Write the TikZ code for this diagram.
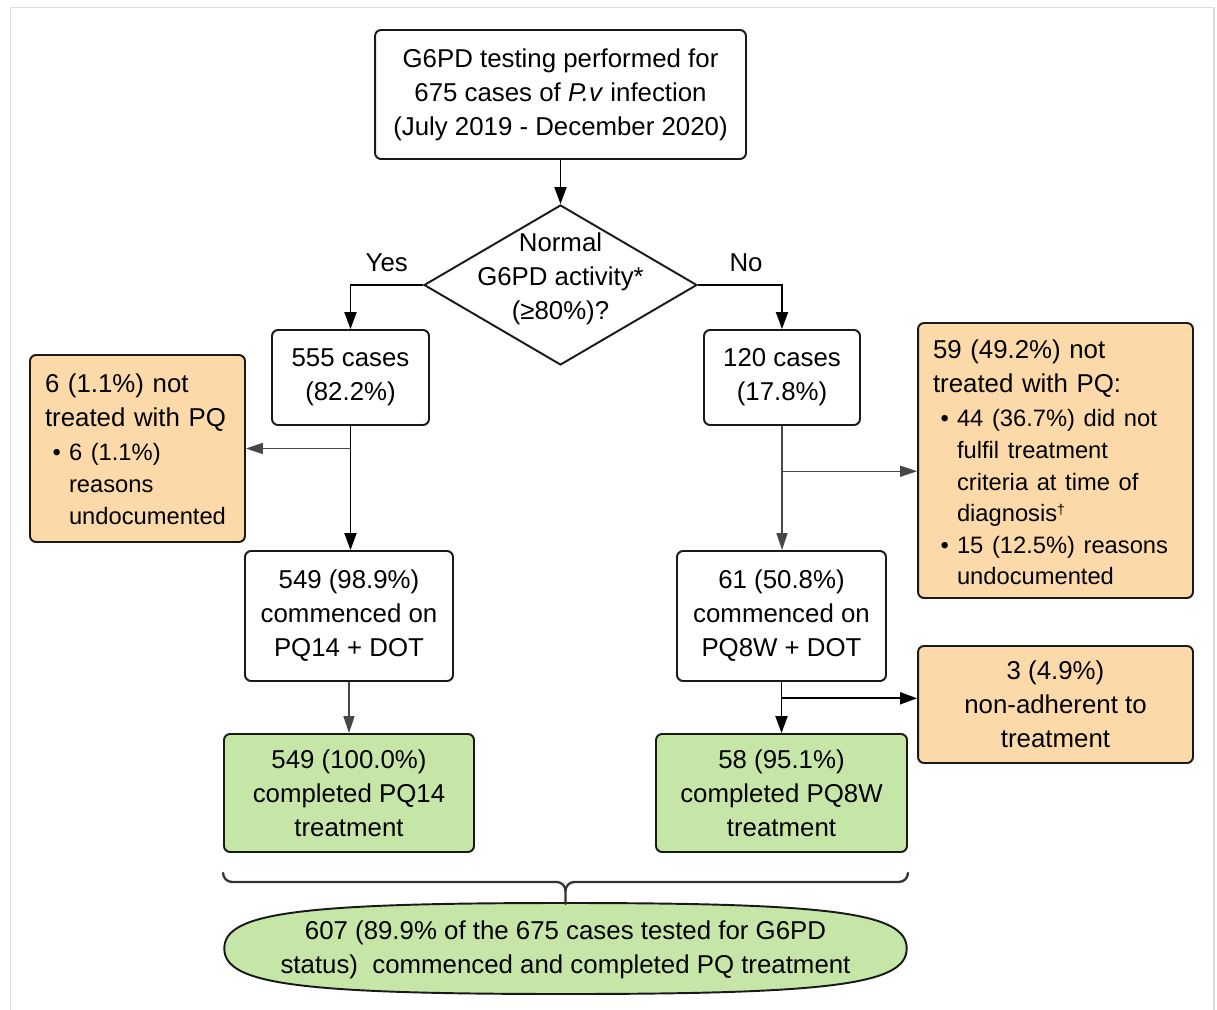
\documentclass[tikz,border=0pt]{standalone}
\usepackage{fontspec}
\setmainfont{Liberation Sans}
\usetikzlibrary{shapes.geometric,arrows.meta,calc}
\definecolor{peach}{RGB}{252,217,168}
\definecolor{leaf}{RGB}{198,230,168}
\definecolor{edgegray}{RGB}{70,70,70}
\definecolor{framegray}{RGB}{222,222,222}
\newcommand{\subfont}{\fontsize{13.5}{18}\selectfont}
\newcommand{\bulitem}{\hspace*{0.15cm}\makebox[0.33cm][l]{•}}
\newcommand{\subind}{\hspace*{0.48cm}}
\newcommand{\dropbox}[2]{\raisebox{-#1}[\height][\depth]{#2}}
\begin{document}
\begin{tikzpicture}[x=0.02cm,y=-0.02cm,
    every node/.style={font=\fontsize{14.7}{19.35}\selectfont},
    box/.style={draw=black!90,line width=1.1pt,rounded corners=0.12cm,inner sep=0pt,align=center},
    note/.style={box,fill=peach},
    done/.style={box,fill=leaf},
    list/.style={note,align=left,inner xsep=0.3cm},
    arr/.style={-{Triangle[length=0.34cm,width=0.24cm]},line width=1.1pt,black},
    garr/.style={-{Triangle[length=0.34cm,width=0.22cm]},line width=0.85pt,edgegray},
    brace/.style={line width=1.3pt,black!80,line cap=round}]
      \useasboundingbox (0,0) rectangle (1217,1010);
      \draw[framegray,line width=0.8pt] (10.5,1010) -- (10.5,7.5) -- (1214,7.5) -- (1214,1010);
      \draw[shift={(565.5,948.5)},draw=black!90,line width=1.1pt,fill=leaf]
        (341.2,0) .. controls (341.2,35.6) and (267.2,45.5) .. (0,45.5)
        .. controls (-267.2,45.5) and (-341.2,35.6) .. (-341.2,0)
        .. controls (-341.2,-35.6) and (-267.2,-45.5) .. (0,-45.5)
        .. controls (267.2,-45.5) and (341.2,-35.6) .. (341.2,0) -- cycle;
      \draw
        (560.5,94.5) node[box,minimum width=7.42cm,minimum height=2.58cm] (test){G6PD testing performed for\\675 cases of \textit{P.v} infection\\(July 2019 - December 2020)}
        (560.5,285) node[diamond,draw=black!90,line width=1.1pt,inner sep=0pt,minimum width=5.46cm,minimum height=3.2cm] (activity){}
        (560.5,279) node[align=center] (activitytext){Normal\\G6PD activity*\\(≥80\%)?}
        (350.5,377.5) node[box,minimum width=3.14cm,minimum height=1.9cm] (c555){555 cases\\(82.2\%)}
        (782,377.5) node[box,minimum width=3.12cm,minimum height=1.9cm] (c120){120 cases\\(17.8\%)}
        (137.5,448.5) node[list,text width=3.7cm,minimum height=3.74cm] (nopq14){\dropbox{0.06cm}{\begin{tabular}{@{}l@{}}
          6 (1.1\%) not\\
          treated with PQ\\[0.4pt]
          {\subfont\bulitem 6 (1.1\%)}\\[-1.2pt]
          {\subfont\subind reasons}\\[-1.2pt]
          {\subfont\subind undocumented}
        \end{tabular}}}
        (349,616) node[box,minimum width=4.16cm,minimum height=2.6cm] (pq14){549 (98.9\%)\\commenced on\\PQ14 + DOT}
        (349,793) node[done,minimum width=5cm,minimum height=2.36cm] (done14){549 (100.0\%)\\completed PQ14\\treatment}
        (1055.5,460.5) node[list,text width=4.9cm,minimum height=5.5cm] (nopq8){\dropbox{0.09cm}{\begin{tabular}{@{}l@{}}
          59 (49.2\%) not\\
          treated with PQ:\\
          {\subfont\bulitem 44 (36.7\%) did not}\\[-1.4pt]
          {\subfont\subind fulfil treatment}\\[-1.4pt]
          {\subfont\subind criteria at time of}\\[-1.4pt]
          {\subfont\subind diagnosis\raisebox{0.6ex}{\fontsize{8}{8}\selectfont †}}\\[-1.4pt]
          {\subfont\bulitem 15 (12.5\%) reasons}\\[-1.4pt]
          {\subfont\subind undocumented}
        \end{tabular}}}
        (781.5,616) node[box,minimum width=4.18cm,minimum height=2.6cm] (pq8){61 (50.8\%)\\commenced on\\PQ8W + DOT}
        (1055.5,704.5) node[note,minimum width=5.5cm,minimum height=2.34cm] (nonadh){3 (4.9\%)\\non-adherent to\\treatment}
        (781.5,793) node[done,minimum width=5.02cm,minimum height=2.36cm] (done8){58 (95.1\%)\\completed PQ8W\\treatment}
        (565.5,949.5) node[align=center] (total){607 (89.9\% of the 675 cases tested for G6PD\\status)~ commenced and completed PQ treatment};
      \coordinate (split8) at ($(c120.south)!0.365!(c120.south |- pq8.north)$);
      \coordinate (splitadh) at ($(pq8.south)!0.32!(done8.north)$);
      \coordinate (bl) at ([yshift=-0.4cm]done14.south west);
      \coordinate (br) at ([yshift=-0.4cm]done8.south east);
      \coordinate (bm) at ($(bl)!0.5!(br)$);
      \begin{scope}[arr]
        \draw (test) -- (activity);
        \draw (activity.west) -| node[pos=0.25,above=0.12cm] (yes){Yes} (c555);
        \draw (activity.east) -| node[pos=0.286,above=0.12cm] (no){No} (c120);
        \draw (c555.south) -- (c555.south |- pq14.north);
        \draw[garr] (c555.south |- nopq14.east) -- (nopq14.east);
        \draw[garr] (pq14) -- (done14);
        \draw[garr] (c120.south) -- (c120.south |- pq8.north);
        \draw[garr] (split8) -- (split8 -| nopq8.west);
        \draw (pq8) -- (done8);
        \draw (splitadh) -- (splitadh -| nonadh.west);
      \end{scope}
      \draw[brace] (bl) to[out=-90,in=180] ++(9,9) -- ([xshift=-0.18cm,yshift=-0.18cm]bm) to[out=0,in=90] ([yshift=-0.36cm]bm) -- ([yshift=-0.62cm]bm);
      \draw[brace] (br) to[out=-90,in=0] ++(-9,9) -- ([xshift=0.18cm,yshift=-0.18cm]bm) to[out=180,in=90] ([yshift=-0.36cm]bm);
    \end{tikzpicture}
\end{document}
